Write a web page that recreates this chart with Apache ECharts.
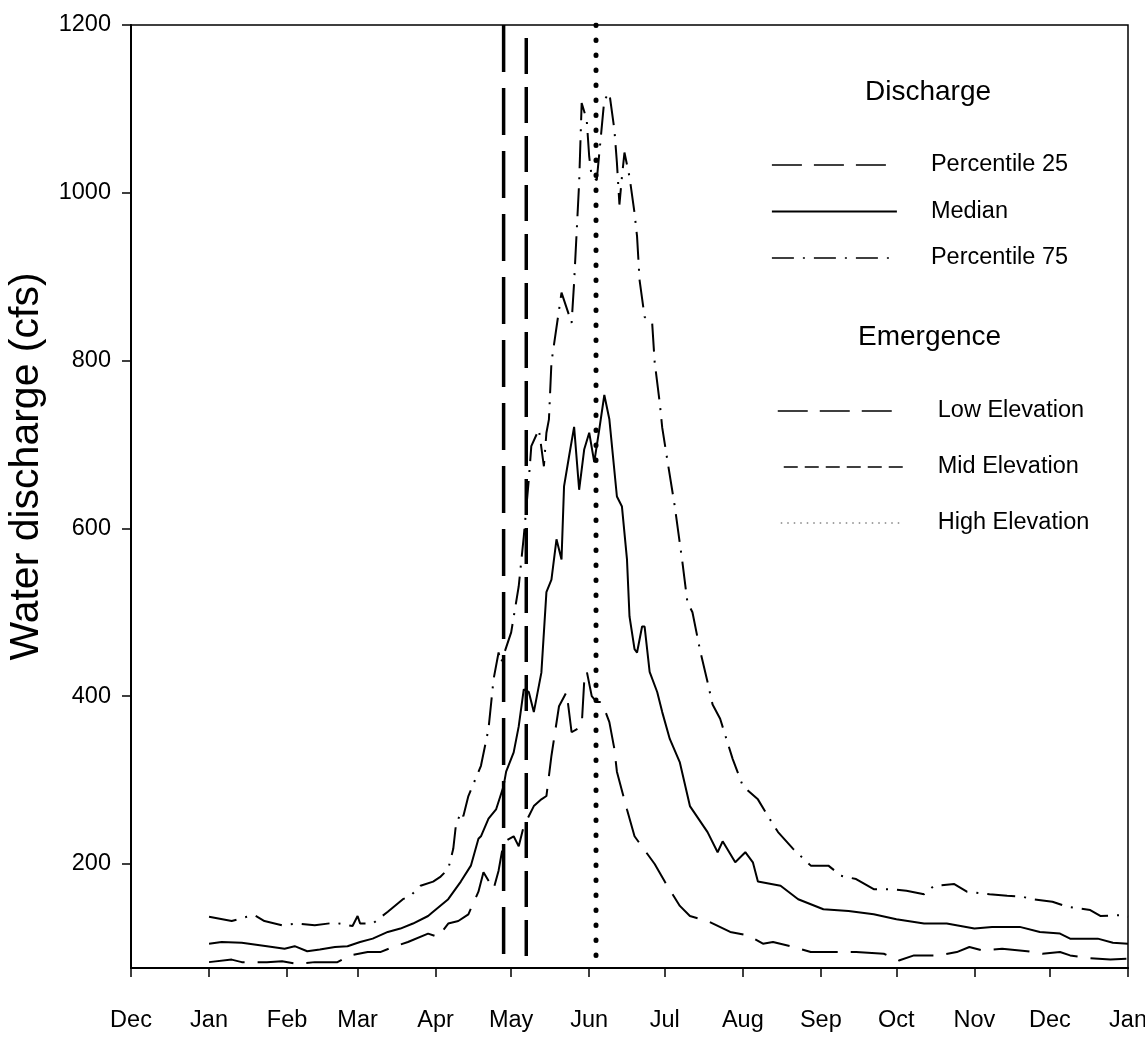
<!DOCTYPE html>
<html>
<head>
<meta charset="utf-8">
<script src="https://cdn.jsdelivr.net/npm/echarts@6/dist/echarts.min.js"></script>
<style>
html,body{margin:0;padding:0;background:#fff;}
#chart{width:1145px;height:1038px;}
</style>
</head>
<body>
<div id="chart"></div>
<script>
// x = days since Dec 1 (axis runs Dec 1 .. Jan 1 of the year after next)
const monthTickDays = [0, 31, 62, 90, 121, 151, 182, 212, 243, 274, 304, 335, 365, 396];
const monthLabels = ['Dec','Jan','Feb','Mar','Apr','May','Jun','Jul','Aug','Sep','Oct','Nov','Dec','Jan'];
const yTickValues = [200, 400, 600, 800, 1000, 1200];

const p25 = [
  [31,83],[40,86],[44,83],[49,83],[54,83],[60,84],[66,81],[73,83],[77,83],[82,83],
  [87,91],[94,95],[99,95],[104,101],[110,107],[118,117],[122,113],[126,129],[130,132],
  [134,140],[138,167],[140,190],[144,170],[146,192],[148,226],[152,233],[154,221],
  [156,245],[160,269],[163,277],[165,281],[167,329],[170,388],[173,405],[175,357],
  [179,364],[180,417],[181,430],[183,400],[185,393],[187,393],[190,369],[192,337],
  [193,310],[197,265],[200,233],[208,200],[212,179],[218,150],[222,138],[229,132],
  [238,119],[245,115],[251,105],[255,107],[262,102],[270,95],[279,95],[288,95],
  [299,93],[305,85],[311,91],[321,91],[328,95],[333,101],[338,97],[346,99],[356,96],
  [362,93],[369,95],[373,91],[380,88],[389,86],[396,87]
];

const median = [
  [31,105],[36,107],[44,106],[54,102],[61,99],[65,102],[70,96],[75,98],[81,101],[86,102],
  [91,107],[96,111],[102,119],[107,123],[112,129],[118,138],[120,143],[126,158],[131,179],
  [135,198],[138,230],[139,233],[142,254],[145,265],[148,293],[149,310],[152,333],
  [154,364],[156,408],[158,405],[160,381],[163,428],[165,524],[167,539],[169,587],
  [171,563],[172,650],[174,686],[176,721],[178,646],[180,694],[182,714],[184,679],
  [186,718],[188,759],[190,730],[193,638],[195,626],[197,563],[198,495],[200,456],
  [201,452],[203,483],[204,483],[206,429],[209,405],[211,381],[214,349],[218,321],
  [222,269],[229,238],[233,214],[235,227],[240,202],[244,214],[247,202],[249,179],
  [258,174],[265,158],[275,146],[285,144],[295,140],[304,134],[315,129],[324,129],
  [335,123],[342,125],[353,125],[361,119],[369,117],[373,111],[384,111],[390,106],[396,105]
];

const p75 = [
  [31,137],[40,132],[46,137],[49,139],[53,132],[60,127],[66,129],[73,127],[81,130],[88,126],
  [90,138],[91,129],[96,129],[102,143],[108,158],[111,162],[115,174],[120,179],[123,185],
  [126,194],[128,218],[129,245],[131,262],[132,257],[134,281],[139,317],[142,361],
  [144,420],[146,452],[147,440],[151,476],[154,531],[156,590],[158,658],[159,698],
  [162,718],[164,674],[165,714],[166,730],[167,798],[171,881],[175,845],[176,893],
  [178,1012],[179,1107],[181,1087],[182,1043],[183,1019],[185,1015],[188,1111],
  [190,1119],[192,1075],[193,1036],[194,986],[195,1019],[196,1048],[198,1019],
  [200,976],[201,948],[202,896],[204,852],[207,845],[208,798],[210,750],[211,720],
  [213,682],[216,626],[219,560],[221,512],[223,500],[226,455],[229,417],[231,390],
  [234,373],[239,325],[243,293],[249,277],[253,257],[257,238],[263,218],[270,198],
  [277,198],[282,186],[288,182],[295,170],[302,170],[308,168],[315,164],[319,174],
  [327,176],[332,167],[341,164],[348,162],[354,161],[358,158],[366,155],[372,149],
  [381,145],[385,138],[394,139],[396,137]
];

// Emergence dates (days since Dec 1)
const emergenceNames = ['Low Elevation', 'Mid Elevation', 'High Elevation'];
const emergenceDays = [148, 157, 184.7];

const Y_MIN = 76, Y_MAX = 1200;
const FONT = "'Liberation Sans', Arial, sans-serif";

const vline = (d) => [[d, Y_MAX], [d, Y_MIN]];
const hiddenSymbol = {color: 'rgba(0,0,0,0)', borderColor: 'rgba(0,0,0,0)', borderWidth: 0};

const chart = echarts.init(document.getElementById('chart'), null, {renderer: 'canvas'});
chart.setOption({
  animation: false,
  backgroundColor: '#fff',
  title: [
    {text: 'Discharge', left: 865, top: 78, padding: 0,
     textStyle: {fontFamily: FONT, fontSize: 28, fontWeight: 'normal', color: '#000'}},
    {text: 'Emergence', left: 858, top: 323, padding: 0,
     textStyle: {fontFamily: FONT, fontSize: 28, fontWeight: 'normal', color: '#000'}}
  ],
  legend: [
    {
      orient: 'vertical', left: 771, top: 150, padding: 0,
      itemWidth: 125, itemHeight: 14, itemGap: 16.5, selectedMode: false,
      itemStyle: hiddenSymbol,
      textStyle: {fontFamily: FONT, fontSize: 23.5, color: '#000', lineHeight: 30, padding: [0,0,0,29]},
      data: [
        {name: 'Percentile 25', itemStyle: hiddenSymbol, lineStyle: {width: 1.5, type: [30, 12]}},
        {name: 'Median', itemStyle: hiddenSymbol, lineStyle: {width: 1.8}},
        {name: 'Percentile 75', itemStyle: hiddenSymbol, lineStyle: {width: 1.5, type: [22, 9, 2, 9]}}
      ]
    },
    {
      orient: 'vertical', left: 777, top: 396, padding: 0,
      itemWidth: 125, itemHeight: 14, itemGap: 26, selectedMode: false,
      itemStyle: hiddenSymbol,
      textStyle: {fontFamily: FONT, fontSize: 23.5, color: '#000', lineHeight: 30, padding: [0,0,0,30]},
      data: [
        {name: 'Low Elevation', itemStyle: hiddenSymbol, lineStyle: {width: 1.5, type: [30, 12], cap: 'butt'}},
        {name: 'Mid Elevation', itemStyle: hiddenSymbol, lineStyle: {width: 1.5, type: [14, 7], cap: 'butt'}},
        {name: 'High Elevation', itemStyle: hiddenSymbol, lineStyle: {width: 1, type: [1.5, 5], cap: 'butt', color: '#444'}}
      ]
    }
  ],
  grid: {left: 131, right: 17, top: 25, bottom: 70, show: true, borderColor: '#000', borderWidth: 1.5,
         outerBoundsMode: 'none', containLabel: false},
  xAxis: {
    type: 'value', min: 0, max: 396,
    axisLine: {show: true, onZero: false, lineStyle: {color: '#000', width: 2}},
    axisTick: {show: true, length: 9, inside: false, customValues: monthTickDays, lineStyle: {color: '#000', width: 1.5}},
    axisLabel: {
      customValues: monthTickDays, margin: 41,
      fontFamily: FONT, fontSize: 23.5, color: '#000',
      formatter: (v) => { const i = monthTickDays.indexOf(v); return i >= 0 ? monthLabels[i] : ''; }
    },
    splitLine: {show: false}
  },
  yAxis: {
    type: 'value', min: Y_MIN, max: Y_MAX,
    name: 'Water discharge (cfs)', nameLocation: 'middle', nameGap: 84,
    nameTextStyle: {fontFamily: FONT, fontSize: 41, color: '#000', padding: [0, 0, 0, 60]},
    axisLine: {show: true, lineStyle: {color: '#000', width: 2}},
    axisTick: {show: true, length: 9, customValues: yTickValues, lineStyle: {color: '#000', width: 1.5}},
    axisLabel: {customValues: yTickValues, margin: 20, fontFamily: FONT, fontSize: 23.5, color: '#000',
      formatter: (v) => String(v)},
    splitLine: {show: false}
  },
  series: [
    {name: 'Percentile 25', type: 'line', data: p25, symbol: 'none', color: '#000',
     lineStyle: {color: '#000', width: 2, type: [36, 13]}},
    {name: 'Median', type: 'line', data: median, symbol: 'none', color: '#000',
     lineStyle: {color: '#000', width: 2}},
    {name: 'Percentile 75', type: 'line', data: p75, symbol: 'none', color: '#000',
     lineStyle: {color: '#000', width: 2, type: [28, 9, 2, 9]}},
    {name: emergenceNames[0], type: 'line', data: vline(emergenceDays[0]), symbol: 'none', color: '#000',
     lineStyle: {color: '#000', width: 3.5, type: [47, 16]}},
    {name: emergenceNames[1], type: 'line', data: vline(emergenceDays[1]), symbol: 'none', color: '#000',
     lineStyle: {color: '#000', width: 3.5, type: [36, 13], dashOffset: 36}},
    {name: emergenceNames[2], type: 'line', data: vline(emergenceDays[2]), symbol: 'none', color: '#000',
     lineStyle: {color: '#000', width: 5, type: [0.5, 14.5], cap: 'round'}}
  ]
});
</script>
</body>
</html>
